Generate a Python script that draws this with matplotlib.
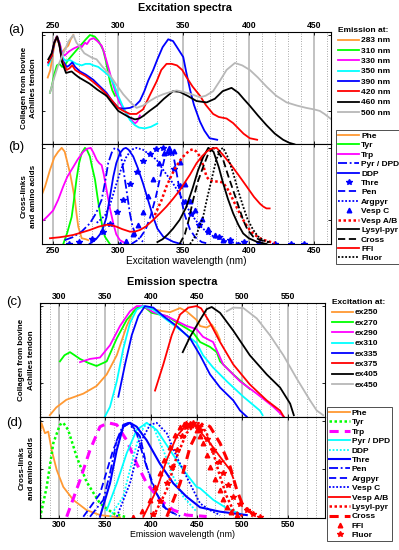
import matplotlib
matplotlib.use("Agg")
import matplotlib.pyplot as plt
from matplotlib.ticker import MultipleLocator
import numpy as np

plt.rcParams['font.family'] = ['Liberation Sans', 'DejaVu Sans']
plt.rcParams['font.weight'] = 'bold'

ORANGE = (1.0, 0.6, 0.2)
GRAY = (0.72, 0.72, 0.72)

# ---------------- (a) excitation spectra of collagen ----------------
em283_x = [246, 248, 251, 253, 255, 257, 259, 261.7, 263.5, 265.6]
em283_y = [0.72, 0.77, 0.93, 0.99, 0.95, 0.88, 0.91, 0.93, 0.97, 1.0]
em310_x = [247.7, 249, 251, 253, 255, 257, 259, 262, 265.6, 269, 272, 275, 278.3, 282, 285, 288.5, 290.5, 292.3, 294, 295.5, 297.5]
em310_y = [0.62, 0.66, 0.74, 0.80, 0.81, 0.79, 0.80, 0.84, 0.876, 0.91, 0.94, 0.97, 1.0, 0.99, 0.96, 0.90, 0.83, 0.75, 0.68, 0.635, 0.60]
em330_x = [246.4, 249, 251, 253, 255, 257, 259, 262, 265.6, 268, 270.7, 272, 274.5, 276, 278.3, 281, 284, 287.3, 289, 291, 293, 295, 298, 301, 305, 309, 312.8, 314.5, 316.6]
em330_y = [0.81, 0.86, 0.95, 0.99, 0.95, 0.88, 0.865, 0.89, 0.91, 0.92, 0.93, 0.92, 0.95, 0.94, 0.97, 0.98, 0.96, 0.93, 0.89, 0.83, 0.77, 0.705, 0.62, 0.556, 0.50, 0.45, 0.417, 0.43, 0.47]
em350_x = [246.4, 249, 251, 253, 255, 257.9, 260, 263, 266, 268, 272, 275, 278.3, 281, 284.7, 289, 293.6, 297, 300, 303, 306.4, 309, 312.8, 316, 320.4, 325, 329.9]
em350_y = [0.80, 0.85, 0.95, 0.99, 0.93, 0.845, 0.83, 0.835, 0.82, 0.81, 0.80, 0.81, 0.81, 0.80, 0.79, 0.76, 0.726, 0.67, 0.60, 0.54, 0.48, 0.44, 0.406, 0.39, 0.385, 0.395, 0.417]
em390_x = [246.4, 249, 251, 253, 255, 257, 260.5, 262.5, 264.8, 267, 270.7, 275, 280.9, 285, 291, 295, 300, 304, 309, 313, 316.6, 320, 323, 326.8, 330, 334, 338.3, 342, 345, 349.8, 352, 355, 358, 362.6, 366, 370, 375.8]
em390_y = [0.82, 0.86, 0.95, 0.99, 0.94, 0.84, 0.79, 0.80, 0.82, 0.79, 0.76, 0.74, 0.705, 0.67, 0.62, 0.57, 0.52, 0.515, 0.52, 0.535, 0.566, 0.63, 0.70, 0.77, 0.84, 0.92, 0.972, 0.96, 0.92, 0.855, 0.76, 0.64, 0.54, 0.43, 0.37, 0.32, 0.31]
em420_x = [246.4, 249, 251, 253, 255, 257, 260.5, 262.5, 264.8, 267, 270.7, 275, 280.9, 285, 291, 295, 300, 304, 309, 314, 319, 324, 329.4, 333, 337, 341, 345, 349, 352, 357, 362.6, 367, 372.7, 377, 383, 388, 392, 396, 400.8, 406.4]
em420_y = [0.82, 0.86, 0.95, 0.99, 0.93, 0.83, 0.77, 0.78, 0.80, 0.77, 0.75, 0.73, 0.69, 0.66, 0.61, 0.57, 0.52, 0.50, 0.48, 0.48, 0.51, 0.60, 0.694, 0.77, 0.81, 0.81, 0.80, 0.77, 0.726, 0.66, 0.60, 0.54, 0.48, 0.46, 0.45, 0.42, 0.385, 0.35, 0.32, 0.31]
em460_x = [246.4, 249, 251, 253.3, 255, 257, 260, 262, 264.3, 267, 270, 274, 278, 284, 291, 295, 300, 304, 308, 312.8, 316, 319, 324, 329.4, 335, 342, 347, 353, 360, 367.7, 374, 380, 386.8, 392, 396, 400.8, 407, 413.6, 420, 426.3, 431, 435]
em460_y = [0.84, 0.88, 0.95, 0.99, 0.93, 0.82, 0.75, 0.755, 0.76, 0.74, 0.72, 0.70, 0.68, 0.64, 0.60, 0.555, 0.50, 0.48, 0.46, 0.444, 0.45, 0.466, 0.50, 0.534, 0.58, 0.63, 0.626, 0.60, 0.565, 0.556, 0.58, 0.63, 0.652, 0.62, 0.58, 0.534, 0.47, 0.406, 0.35, 0.31, 0.29, 0.28]
em500_x = [247.7, 251, 254, 256, 259, 262, 265.6, 268, 270.7, 274, 277, 280, 283.4, 288, 293.6, 298, 303.8, 309, 314, 319, 324.3, 329, 334.5, 340, 344.7, 350, 356, 362.6, 367, 372.7, 378, 383, 389.4, 395, 400.8, 407, 413.6, 421, 429, 437, 444, 450, 454.4, 458, 464]
em500_y = [0.62, 0.72, 0.80, 0.84, 0.90, 0.96, 1.0, 0.95, 0.92, 0.88, 0.865, 0.85, 0.84, 0.79, 0.737, 0.68, 0.61, 0.56, 0.52, 0.535, 0.566, 0.59, 0.61, 0.625, 0.635, 0.625, 0.61, 0.59, 0.60, 0.63, 0.70, 0.77, 0.816, 0.80, 0.77, 0.72, 0.66, 0.60, 0.556, 0.535, 0.52, 0.51, 0.50, 0.48, 0.44]

# ---------------- (b) excitation spectra of cross-links / amino acids ----------------
phe_ex_x = [240, 244, 247.7, 251, 254, 256.7, 259, 261, 263, 265, 266.8, 268, 269.4, 272, 275, 277]
phe_ex_y = [0.46, 0.60, 0.77, 0.90, 0.96, 1.0, 0.96, 0.85, 0.74, 0.60, 0.46, 0.32, 0.18, 0.06, 0.05, 0.04]
tyr_ex_x = [257.9, 261, 264.3, 266, 268, 270, 272, 274.5, 276, 278.3, 280, 282.2, 284, 286, 288, 289.8, 293.6]
tyr_ex_y = [0.0, 0.12, 0.28, 0.45, 0.67, 0.84, 0.945, 1.0, 0.98, 0.91, 0.80, 0.67, 0.50, 0.32, 0.17, 0.076, 0.0]
trp_ex_x = [241, 243, 246, 250.2, 254, 257.9, 261, 265.5, 269, 273.2, 276, 278.9, 281, 283.5, 285.5, 287.3, 289, 291.1, 293.5, 296.2, 298.5, 301.3, 306.4]
trp_ex_y = [0.24, 0.25, 0.29, 0.35, 0.46, 0.60, 0.70, 0.80, 0.88, 0.96, 0.99, 1.0, 0.95, 0.875, 0.84, 0.82, 0.72, 0.56, 0.38, 0.215, 0.10, 0.04, 0.0]
pyr_ex_x = [259, 265, 272, 278.3, 283, 287.3, 290, 292.3, 295, 297.4, 299.5, 301.3, 303, 305.1, 307, 308.9, 311, 314, 319]
pyr_ex_y = [0.04, 0.07, 0.13, 0.215, 0.32, 0.46, 0.65, 0.84, 0.95, 1.0, 0.99, 0.96, 0.85, 0.67, 0.50, 0.32, 0.18, 0.076, 0.024]
ddp_ex_x = [278, 283, 286, 288.5, 291, 293.5, 296.2, 298.5, 301.3, 304, 305.9, 308, 311.5, 315, 319, 323, 326.8, 330, 334.5, 342, 348]
ddp_ex_y = [0.0, 0.05, 0.10, 0.17, 0.28, 0.48, 0.70, 0.84, 0.945, 0.99, 1.0, 0.98, 0.91, 0.79, 0.63, 0.45, 0.28, 0.16, 0.076, 0.024, 0.0]
thre_ex_x = [262, 270, 280, 288, 294, 299, 304, 309, 314, 319, 324, 329, 334, 339, 343, 347, 351, 356, 362, 369, 377, 386, 396, 408, 420, 432, 442]
thre_ex_y = [0.0, 0.02, 0.05, 0.12, 0.21, 0.33, 0.46, 0.62, 0.75, 0.86, 0.94, 0.99, 1.0, 0.95, 0.78, 0.60, 0.44, 0.31, 0.20, 0.13, 0.07, 0.04, 0.02, 0.01, 0.0, 0.0, 0.0]
pen_ex_x = [310, 316, 321, 325, 329, 333, 336, 339, 342, 345, 348, 351, 355, 359, 364, 370]
pen_ex_y = [0.0, 0.05, 0.15, 0.30, 0.50, 0.75, 0.92, 1.0, 0.94, 0.72, 0.48, 0.30, 0.15, 0.07, 0.02, 0.0]
argpyr_ex_x = [283.5, 287, 290, 294, 298, 302, 306, 310, 314, 319, 324, 329.4, 335, 342, 347, 352, 357, 362, 368, 374, 380, 386, 395]
argpyr_ex_y = [0.22, 0.26, 0.30, 0.42, 0.60, 0.77, 0.90, 0.98, 1.0, 0.98, 0.93, 0.875, 0.76, 0.63, 0.52, 0.40, 0.29, 0.20, 0.12, 0.07, 0.04, 0.02, 0.0]
vespc_ex_x = [301, 306, 311, 315, 319, 323, 327, 331, 335, 339, 343, 347, 351, 355, 359, 364, 369, 374, 380, 386, 392]
vespc_ex_y = [0.0, 0.03, 0.10, 0.20, 0.33, 0.50, 0.68, 0.84, 0.95, 1.0, 0.97, 0.85, 0.62, 0.45, 0.35, 0.26, 0.16, 0.09, 0.04, 0.01, 0.0]
vespab_ex_x = [328, 333, 337, 341, 345, 349, 352.4, 355, 357.4, 360, 362.6, 365, 367.7, 370, 373, 377, 380, 383, 385.5, 389, 393, 397, 400.8, 404, 408.5, 412, 416, 420]
vespab_ex_y = [0.30, 0.45, 0.60, 0.72, 0.82, 0.90, 0.945, 0.975, 0.986, 0.96, 0.91, 0.82, 0.70, 0.66, 0.65, 0.65, 0.64, 0.59, 0.53, 0.43, 0.32, 0.22, 0.146, 0.10, 0.06, 0.04, 0.024, 0.01]
lysyl_ex_x = [330, 334, 338, 342, 347, 352, 357, 361, 365, 369, 373, 377, 380.4, 384, 388, 392, 395.7, 400, 406, 413.6]
lysyl_ex_y = [0.02, 0.05, 0.10, 0.16, 0.25, 0.38, 0.58, 0.76, 0.90, 1.0, 0.96, 0.80, 0.63, 0.47, 0.32, 0.20, 0.11, 0.06, 0.024, 0.0]
cross_ex_x = [347, 351, 354, 357.4, 361, 365, 369, 372.7, 376, 380.4, 384, 388, 392, 395.7, 399, 403.4, 409, 416]
cross_ex_y = [0.0, 0.10, 0.25, 0.46, 0.65, 0.80, 0.94, 1.0, 0.97, 0.875, 0.72, 0.56, 0.40, 0.25, 0.15, 0.076, 0.04, 0.02]
ffi_ex_x = [247.7, 255, 260, 265.5, 272, 278.3, 285, 291, 295, 298.7, 303, 309, 313, 316.6, 321, 326.8, 332, 337, 342, 347.2, 351, 354.9, 360, 364, 367.7, 371, 375.4, 380, 385.5, 392, 398.3, 404, 408.5, 411, 413.6, 416]
ffi_ex_y = [0.06, 0.07, 0.08, 0.094, 0.12, 0.146, 0.18, 0.20, 0.195, 0.18, 0.155, 0.128, 0.13, 0.146, 0.18, 0.25, 0.32, 0.39, 0.47, 0.56, 0.64, 0.72, 0.84, 0.91, 0.96, 0.99, 1.0, 0.93, 0.84, 0.72, 0.60, 0.49, 0.42, 0.39, 0.37, 0.37]
fluor_ex_x = [355, 360, 365, 368, 371.5, 375, 378, 380.4, 384, 388, 392, 395.7, 399, 403.4, 407, 411, 416]
fluor_ex_y = [0.0, 0.10, 0.28, 0.47, 0.67, 0.87, 0.98, 1.0, 0.90, 0.74, 0.55, 0.39, 0.26, 0.146, 0.08, 0.04, 0.01]

# ---------------- (c) emission spectra of collagen ----------------
ex250_x = [290, 297, 308, 326.5, 341, 352, 363, 373.8, 381, 388.3, 397.4, 410, 421, 432, 439, 450, 453.8, 461, 466.5, 472, 475.6]
ex250_y = [0.29, 0.34, 0.39, 0.43, 0.48, 0.555, 0.68, 0.87, 0.966, 0.994, 0.987, 0.97, 0.96, 0.987, 0.966, 0.91, 0.87, 0.86, 0.88, 0.83, 0.78]
ex270_x = [301, 306, 312, 317, 322.9, 332, 341, 352, 363, 373.8, 384.7, 392, 401, 417.5, 432, 446, 453.8, 464.7, 472, 475.6, 490, 508]
ex270_y = [0.64, 0.68, 0.70, 0.68, 0.656, 0.63, 0.61, 0.64, 0.79, 0.91, 0.987, 1.0, 0.956, 0.935, 0.88, 0.83, 0.766, 0.734, 0.70, 0.64, 0.555, 0.46]
ex290_x = [322.9, 333.8, 344.7, 355.6, 366.5, 377.4, 384.7, 392, 402.8, 417.5, 439.3, 450, 457, 468, 479, 497.4, 515.6, 533.7, 545]
ex290_y = [0.635, 0.656, 0.665, 0.745, 0.87, 0.966, 1.0, 1.0, 0.96, 0.935, 0.87, 0.85, 0.80, 0.766, 0.62, 0.51, 0.43, 0.344, 0.28]
ex310_x = [350, 355.6, 363, 370, 377.4, 384.7, 392, 402.8, 417.5, 435.5, 450, 457, 468, 483, 501, 519, 522]
ex310_y = [0.28, 0.344, 0.51, 0.72, 0.89, 0.977, 1.0, 0.977, 0.91, 0.83, 0.76, 0.68, 0.60, 0.51, 0.41, 0.32, 0.29]
ex335_x = [364.7, 372, 379.3, 386.5, 393.8, 402.8, 413.7, 428.3, 442.9, 453.8, 464.7, 475.6, 490, 497.4, 504.7]
ex335_y = [0.41, 0.62, 0.81, 0.935, 1.0, 0.99, 0.935, 0.87, 0.79, 0.68, 0.555, 0.47, 0.386, 0.32, 0.28]
ex375_x = [404.7, 413.7, 422.9, 432, 441, 450, 455, 464.7, 475.6, 490, 508, 526.5, 541, 545]
ex375_y = [0.45, 0.62, 0.81, 0.945, 0.99, 1.0, 0.985, 0.89, 0.766, 0.62, 0.49, 0.386, 0.32, 0.28]
ex405_x = [434.9, 442.9, 453.8, 461, 466.5, 475.6, 490, 508, 526.5, 541, 552, 556]
ex405_y = [0.70, 0.80, 0.91, 0.98, 0.994, 0.956, 0.84, 0.68, 0.555, 0.47, 0.365, 0.29]
ex450_x = [482.9, 490, 501, 515.6, 530, 544.6, 559, 573.7, 581, 588]
ex450_y = [0.966, 0.99, 0.987, 0.92, 0.81, 0.68, 0.53, 0.386, 0.32, 0.29]

# ---------------- (d) emission spectra of cross-links / amino acids ----------------
phe_em_x = [279.3, 281, 284.7, 288.3, 292, 297.5, 304.7, 315.6, 330, 344.7, 366.5]
phe_em_y = [0.873, 0.976, 0.873, 0.89, 0.70, 0.495, 0.32, 0.186, 0.082, 0.03, 0.007]
tyr_em_x = [279.3, 286.6, 293.8, 301, 304.7, 310, 319.3, 330, 344.7, 359, 373.8]
tyr_em_y = [0.0, 0.32, 0.77, 0.96, 0.98, 0.907, 0.63, 0.374, 0.15, 0.048, 0.007]
trp_em_x = [308.4, 322.9, 333.8, 344.7, 353.8, 363, 373.8, 384.7, 395.6, 410, 424.6, 439, 455, 461]
trp_em_y = [0.013, 0.39, 0.70, 0.94, 0.98, 0.96, 0.80, 0.56, 0.357, 0.186, 0.082, 0.03, 0.02, 0.015]
pyr_em_x = [352, 363, 373.8, 384.7, 395.6, 406.5, 421, 435.5, 450, 453.8, 468.3, 483, 501]
pyr_em_y = [0.08, 0.357, 0.667, 0.907, 0.98, 0.907, 0.70, 0.495, 0.32, 0.306, 0.186, 0.10, 0.03]
ddp_em_x = [355.6, 370, 381, 388.3, 395.6, 402.8, 413.7, 424.6, 435.5, 450]
ddp_em_y = [0.013, 0.22, 0.63, 0.873, 0.976, 0.94, 0.70, 0.426, 0.22, 0.065]
thre_em_x = [344.7, 355.6, 363, 370, 377.4, 384.7, 395.6, 410, 424.6, 439, 453.8, 475.6, 490, 504.7]
thre_em_y = [0.013, 0.357, 0.70, 0.94, 0.98, 0.94, 0.80, 0.56, 0.357, 0.22, 0.11, 0.065, 0.048, 0.03]
pen_em_x = [333.8, 348.3, 355.6, 363, 370, 375.6, 384.7, 392, 402.8, 413.7, 428.3]
pen_em_y = [0.013, 0.186, 0.46, 0.80, 0.96, 0.98, 0.873, 0.63, 0.32, 0.116, 0.03]
argpyr_em_x = [326.5, 344.7, 359, 370, 377.4, 388.3, 395.6, 406.5, 417.5, 432]
argpyr_em_y = [0.013, 0.25, 0.70, 0.94, 0.98, 0.84, 0.53, 0.25, 0.08, 0.02]
vespc_em_x = [363, 377.4, 388.3, 399.2, 406.5, 417.5, 428.3, 439, 450, 453.8, 464.7, 475.6]
vespc_em_y = [0.013, 0.357, 0.77, 0.96, 0.98, 0.873, 0.63, 0.426, 0.22, 0.15, 0.08, 0.03]
vespab_em_x = [392, 406.5, 417.5, 428.3, 439, 446.5, 453.8, 464.7, 475.6, 486.5, 490]
vespab_em_y = [0.013, 0.29, 0.60, 0.84, 0.96, 0.98, 0.89, 0.77, 0.63, 0.495, 0.41]
lysyl_em_x = [402.8, 417.5, 428.3, 439, 450, 453.8, 461, 468.3, 475.6, 483, 490, 501]
lysyl_em_y = [0.013, 0.29, 0.63, 0.873, 0.976, 0.976, 0.873, 0.667, 0.426, 0.22, 0.08, 0.013]
cross_em_x = [417.5, 432, 443, 453.8, 457.4, 464.7, 475.6, 486.5, 493.8, 501, 515.6]
cross_em_y = [0.013, 0.357, 0.735, 0.94, 0.98, 0.94, 0.77, 0.53, 0.29, 0.116, 0.013]
ffi_em_x = [381, 390, 399.2, 405, 410, 415, 421, 427, 432, 436, 439, 444, 450, 454, 457.4, 461, 464.7, 470, 475.6, 479, 483, 488, 494]
ffi_em_y = [0.013, 0.07, 0.186, 0.32, 0.46, 0.60, 0.735, 0.85, 0.94, 0.97, 0.98, 0.96, 0.907, 0.84, 0.77, 0.65, 0.53, 0.40, 0.29, 0.2, 0.116, 0.06, 0.03]
fluor_em_x = [402.8, 410, 417.5, 423, 428.3, 434, 439, 443, 446.5, 450, 453.8, 461, 468.3, 474, 479, 484, 490, 497, 504.7, 512, 519]
fluor_em_y = [0.04, 0.18, 0.357, 0.53, 0.70, 0.84, 0.94, 0.97, 0.98, 0.95, 0.907, 0.81, 0.70, 0.58, 0.46, 0.34, 0.22, 0.14, 0.08, 0.04, 0.013]

W, H = 399, 550
fig = plt.figure(figsize=(W / 100, H / 100), dpi=100)


def pax(l, t, r, b):
    return fig.add_axes([l / W, 1 - b / H, (r - l) / W, (b - t) / H])


def style(ax, xlim, ylim, yticks, top_labels):
    ax.set_xlim(*xlim)
    ax.set_ylim(*ylim)
    ax.xaxis.set_major_locator(MultipleLocator(50))
    ax.xaxis.set_minor_locator(MultipleLocator(10))
    ax.set_yticks(yticks)
    ax.set_yticklabels([])
    ax.grid(which='major', axis='x', color=(0.72, 0.72, 0.72), lw=1.2, ls='-')
    ax.grid(which='minor', axis='x', color=(0.55, 0.55, 0.55), lw=0.6, ls=(0, (1, 2)))
    ax.set_axisbelow(True)
    ax.tick_params(which='both', direction='in', top=True, right=True,
                   labeltop=top_labels, labelbottom=not top_labels,
                   labelsize=6.2, pad=1.5, width=0.6)
    ax.tick_params(which='major', length=2.5)
    ax.tick_params(which='minor', length=0)
    for s in ax.spines.values():
        s.set_linewidth(0.8)


def leg(handles, title, x, y, spacing, frame, handlelen=2.5):
    lg = fig.legend(handles=handles, loc='upper left', bbox_to_anchor=(x / W, 1 - y / H),
                    bbox_transform=fig.transFigure, frameon=frame, fancybox=False,
                    borderaxespad=0, borderpad=0.25, handlelength=handlelen,
                    handletextpad=0.25, labelspacing=spacing, fontsize=6.0,
                    title=title, title_fontproperties={'size': 6.0, 'weight': 'bold'},
                    alignment='left', edgecolor='black')
    if frame:
        lg.get_frame().set_linewidth(0.6)
    return lg


# ---------- panel (a) ----------
ax_a = pax(42, 32, 331, 144)
style(ax_a, (241.6, 463), (0.282, 1.02), [0.5, 1.0], True)
lw = 1.3
ha = []
for xs, ys, c, lab in [(em283_x, em283_y, ORANGE, '283 nm'), (em310_x, em310_y, (0, 1, 0), '310 nm'),
                       (em330_x, em330_y, (1, 0, 1), '330 nm'), (em350_x, em350_y, (0, 1, 1), '350 nm'),
                       (em390_x, em390_y, (0, 0, 1), '390 nm'), (em420_x, em420_y, (1, 0, 0), '420 nm'),
                       (em460_x, em460_y, 'k', '460 nm'), (em500_x, em500_y, GRAY, '500 nm')]:
    ha.append(ax_a.plot(xs, ys, color=c, lw=lw, label=lab)[0])
leg(ha, 'Emission at:', 336, 25, 0.30, False)

# ---------- panel (b) ----------
ax_b = pax(42, 144, 331, 244)
style(ax_b, (241.6, 463), (0.0, 1.04), [0.25, 1.0], False)
hb = []
B = (0, 0, 1)
R = (1, 0, 0)
series_b = [
    (phe_ex_x, phe_ex_y, dict(color=ORANGE, lw=lw), 'Phe'),
    (tyr_ex_x, tyr_ex_y, dict(color=(0, 1, 0), lw=lw), 'Tyr'),
    (trp_ex_x, trp_ex_y, dict(color=(1, 0, 1), lw=lw), 'Trp'),
    (pyr_ex_x, pyr_ex_y, dict(color=B, lw=lw, ls=(0, (5, 1.5, 1, 1.5))), 'Pyr / DPD'),
    (ddp_ex_x, ddp_ex_y, dict(color=B, lw=lw), 'DDP'),
    (thre_ex_x, thre_ex_y, dict(color=B, ls='none', marker='*', ms=4.2), 'Thre'),
    (pen_ex_x, pen_ex_y, dict(color=B, lw=lw, ls=(0, (4, 2))), 'Pen'),
    (argpyr_ex_x, argpyr_ex_y, dict(color=B, lw=lw, ls=(0, (1, 1))), 'Argpyr'),
    (vespc_ex_x, vespc_ex_y, dict(color=B, ls='none', marker='^', ms=3.3), 'Vesp C'),
    (vespab_ex_x, vespab_ex_y, dict(color=R, lw=1.8, ls=(0, (1, 1))), 'Vesp A/B'),
    (lysyl_ex_x, lysyl_ex_y, dict(color='k', lw=lw), 'Lysyl-pyr'),
    (cross_ex_x, cross_ex_y, dict(color='k', lw=lw, ls=(0, (4, 2))), 'Cross'),
    (ffi_ex_x, ffi_ex_y, dict(color=R, lw=lw), 'FFI'),
    (fluor_ex_x, fluor_ex_y, dict(color='k', lw=lw, ls=(0, (1, 1))), 'Fluor'),
]
for xs, ys, kw, lab in series_b:
    hb.append(ax_b.plot(xs, ys, label=lab, **kw)[0])
ax_b.set_xlabel('Excitation wavelength (nm)', fontsize=7.2, labelpad=1)
leg(hb, None, 336, 130, 0.19, True)

# ---------- panel (c) ----------
ax_c = pax(40, 303, 325, 417)
style(ax_c, (279.3, 590), (0.278, 1.02), [0.5, 1.0], True)
hc = []
for xs, ys, c, lab in [(ex250_x, ex250_y, ORANGE, 'ex250'), (ex270_x, ex270_y, (0, 1, 0), 'ex270'),
                       (ex290_x, ex290_y, (1, 0, 1), 'ex290'), (ex310_x, ex310_y, (0, 1, 1), 'ex310'),
                       (ex335_x, ex335_y, (0, 0, 1), 'ex335'), (ex375_x, ex375_y, (1, 0, 0), 'ex375'),
                       (ex405_x, ex405_y, 'k', 'ex405'), (ex450_x, ex450_y, GRAY, 'ex450')]:
    hc.append(ax_c.plot(xs, ys, color=c, lw=lw, label=lab)[0])
leg(hc, 'Excitation at:', 330, 297, 0.30, False)

# ---------- panel (d) ----------
ax_d = pax(40, 417, 325, 518)
style(ax_d, (279.3, 590), (0.0, 1.04), [0.5, 1.0], False)
C = (0, 1, 1)
series_d = [
    (phe_em_x, phe_em_y, dict(color=ORANGE, lw=lw), 'Phe'),
    (tyr_em_x, tyr_em_y, dict(color=(0, 1, 0), lw=1.8, ls=(0, (1, 1))), 'Tyr'),
    (trp_em_x, trp_em_y, dict(color=(1, 0, 1), lw=2.2, ls=(0, (3, 2))), 'Trp'),
    (pyr_em_x, pyr_em_y, dict(color=C, lw=lw), 'Pyr / DPD'),
    (ddp_em_x, ddp_em_y, dict(color=C, lw=lw, ls=(0, (1, 1))), 'DDP'),
    (thre_em_x, thre_em_y, dict(color=B, lw=1.5), 'Thre'),
    (pen_em_x, pen_em_y, dict(color=B, lw=lw, ls=(0, (5, 1.5, 1, 1.5))), 'Pen'),
    (argpyr_em_x, argpyr_em_y, dict(color=B, lw=lw, ls=(0, (4, 2))), 'Argpyr'),
    (vespc_em_x, vespc_em_y, dict(color=B, lw=lw, ls=(0, (1, 1))), 'Vesp C'),
    (vespab_em_x, vespab_em_y, dict(color=R, lw=lw), 'Vesp A/B'),
    (lysyl_em_x, lysyl_em_y, dict(color=R, lw=1.8, ls=(0, (1, 1))), 'Lysyl-pyr'),
    (cross_em_x, cross_em_y, dict(color=R, lw=2.2, ls=(0, (3, 2))), 'Cross'),
    (ffi_em_x, ffi_em_y, dict(color=R, ls='none', marker='^', ms=3.3), 'FFI'),
    (fluor_em_x, fluor_em_y, dict(color=R, ls='none', marker='*', ms=4.2), 'Fluor'),
]
hd = []
for xs, ys, kw, lab in series_d:
    hd.append(ax_d.plot(xs, ys, label=lab, **kw)[0])
ax_d.set_xlabel('Emission wavelength (nm)', fontsize=6.4, labelpad=1)
leg(hd, None, 327, 407, 0.19, True)

# ---------- titles, panel letters, y labels ----------
fig.text(185 / W, 1 - 8 / H, 'Excitation spectra', ha='center', va='center', fontsize=7.8)
fig.text(172 / W, 1 - 282 / H, 'Emission spectra', ha='center', va='center', fontsize=7.8)
for lab, x, y in [('(a)', 16, 30), ('(b)', 16, 147), ('(c)', 14, 302), ('(d)', 14, 423)]:
    fig.text(x / W, 1 - y / H, lab, ha='center', va='center', fontsize=9.5, fontweight='normal')
for txt, x, y in [('Collagen from bovine\nAchilles tendon', 29, 88),
                  ('Cross-links\nand amino acids', 29, 196),
                  ('Collagen from bovine\nAchilles tendon', 26.5, 360),
                  ('Cross-links\nand amino acids', 27, 468)]:
    fig.text(x / W, 1 - y / H, txt, rotation=90, ha='center', va='center',
             fontsize=5.8, linespacing=1.45, multialignment='center')

fig.savefig('out.png', dpi=100)
